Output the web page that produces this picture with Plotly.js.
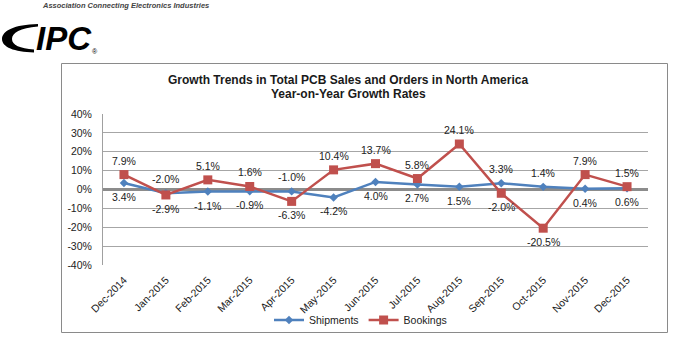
<!DOCTYPE html>
<html>
<head>
<meta charset="utf-8">
<script src="https://cdn.plot.ly/plotly-3.0.1.min.js"></script>
<style>
  html, body { margin: 0; padding: 0; background: #ffffff; }
  #chart { width: 675px; height: 340px; }
</style>
</head>
<body>
<div id="chart"></div>
<script>
// ---- data ----
var months = ["Dec-2014", "Jan-2015", "Feb-2015", "Mar-2015", "Apr-2015", "May-2015", "Jun-2015",
              "Jul-2015", "Aug-2015", "Sep-2015", "Oct-2015", "Nov-2015", "Dec-2015"];
var shipments = [3.4, -2.0, -1.1, -0.9, -1.0, -4.2, 4.0, 2.7, 1.5, 3.3, 1.4, 0.4, 0.6];
var bookings  = [7.9, -2.9, 5.1, 1.6, -6.3, 10.4, 13.7, 5.8, 24.1, -2.0, -20.5, 7.9, 1.5];
var yTicks = [-40, -30, -20, -10, 0, 10, 20, 30, 40];
var yTickText = ["-40%", "-30%", "-20%", "-10%", "0%", "10%", "20%", "30%", "40%"];

// ---- layout helpers (pixel -> paper) ----
var L = 103, R = 648, T = 114, B = 265;
function PX(x) { return (x - L) / (R - L); }
function PY(y) { return (B - y) / (B - T); }

var BLUE = "#4F81BD", RED = "#C0504D", TXT = "#222222";
var FONT = "Liberation Sans, Arial, sans-serif";

var traces = [
  { x: months, y: shipments, name: "Shipments", type: "scatter", mode: "lines+markers",
    line: { color: BLUE, width: 2.5 }, marker: { symbol: "diamond", size: 6.5, color: BLUE } },
  { x: months, y: bookings, name: "Bookings", type: "scatter", mode: "lines+markers",
    line: { color: RED, width: 2.5 }, marker: { symbol: "square", size: 9, color: RED } }
];

var annotations = [];
function fmt(v) { return v.toFixed(1) + "%"; }
for (var i = 0; i < months.length; i++) {
  var sUp = shipments[i] > bookings[i];
  annotations.push({ x: months[i], y: shipments[i], xref: "x", yref: "y", text: fmt(shipments[i]),
    showarrow: false, yshift: sUp ? 14 : -14, font: { family: FONT, size: 10.5, color: TXT } });
  annotations.push({ x: months[i], y: bookings[i], xref: "x", yref: "y", text: fmt(bookings[i]),
    showarrow: false, yshift: sUp ? -14 : 14, font: { family: FONT, size: 10.5, color: TXT } });
}
// chart title (two lines)
annotations.push({ xref: "paper", yref: "paper", x: PX(348), y: PY(79.5), xanchor: "center", yanchor: "middle",
  showarrow: false, text: "Growth Trends in Total PCB Sales and Orders in North America",
  font: { family: FONT, size: 12, color: "#1a1a1a", weight: "bold" } });
annotations.push({ xref: "paper", yref: "paper", x: PX(348), y: PY(93.5), xanchor: "center", yanchor: "middle",
  showarrow: false, text: "Year-on-Year Growth Rates",
  font: { family: FONT, size: 12, color: "#1a1a1a", weight: "bold" } });
// logo texts
annotations.push({ xref: "paper", yref: "paper", x: PX(40), y: PY(6), xanchor: "left", yanchor: "middle",
  showarrow: false, text: "Association Connecting Electronics Industries",
  font: { family: FONT, size: 7.5, color: "#444444", style: "italic", weight: "bold" } });
annotations.push({ xref: "paper", yref: "paper", x: PX(64), y: PY(39), xanchor: "center", yanchor: "middle",
  showarrow: false, text: "IPC",
  font: { family: FONT, size: 33, color: "#000000", style: "italic", weight: "bold" } });
annotations.push({ xref: "paper", yref: "paper", x: PX(95), y: PY(51), xanchor: "center", yanchor: "middle",
  showarrow: false, text: "®", font: { family: FONT, size: 7, color: "#000000" } });

function pathFrom(pts) {
  return pts.map(function (c) {
    if (typeof c === "string") return c;
    return PX(c[0]).toFixed(5) + "," + PY(c[1]).toFixed(5);
  }).join(" ");
}
var swoosh = pathFrom(["M", [38, 24], "C", [14, 24.5], [2, 31], [2, 39], "C", [2, 47], [14, 52], [34, 52.5],
  "L", [34, 49.5], "C", [20, 48.5], [12, 45], [12, 39], "C", [12, 33], [20, 28], [38, 26.5], "Z"]);

var shapes = [
  { type: "rect", xref: "paper", yref: "paper", x0: PX(61.5), x1: PX(667.5), y0: PY(332.5), y1: PY(63.5),
    line: { color: "#8a8a8a", width: 1 }, fillcolor: "rgba(0,0,0,0)", layer: "below" },
  { type: "path", xref: "paper", yref: "paper", path: swoosh, fillcolor: "#000000", line: { width: 0 } }
];

var layout = {
  width: 675, height: 340,
  margin: { l: L, r: 675 - R, t: T, b: 340 - B, pad: 0, autoexpand: false },
  paper_bgcolor: "#ffffff", plot_bgcolor: "#ffffff",
  font: { family: FONT, size: 10.5, color: TXT },
  showlegend: true,
  legend: { orientation: "h", x: PX(269), y: PY(320), xanchor: "left", yanchor: "middle",
    font: { family: FONT, size: 10.5, color: TXT }, itemwidth: 30, bgcolor: "rgba(0,0,0,0)",
    traceorder: "normal" },
  xaxis: { type: "category", range: [-0.5, 12.5], showgrid: false, zeroline: false, showline: false,
    tickangle: -45, ticks: "", ticklabelstandoff: 6, automargin: false,
    tickfont: { family: FONT, size: 10.5, color: TXT }, fixedrange: true },
  yaxis: { range: [-40, 40], tickvals: yTicks, ticktext: yTickText, showgrid: true, gridcolor: "#a6a6a6",
    gridwidth: 1, zeroline: true, zerolinecolor: "#8c8c8c", zerolinewidth: 3, showline: true,
    linecolor: "#a0a0a0", linewidth: 1, ticks: "", ticklabelstandoff: 8, automargin: false,
    tickfont: { family: FONT, size: 10.5, color: TXT }, fixedrange: true },
  annotations: annotations,
  shapes: shapes
};

Plotly.newPlot("chart", traces, layout, { displayModeBar: false, staticPlot: true });
</script>
</body>
</html>
